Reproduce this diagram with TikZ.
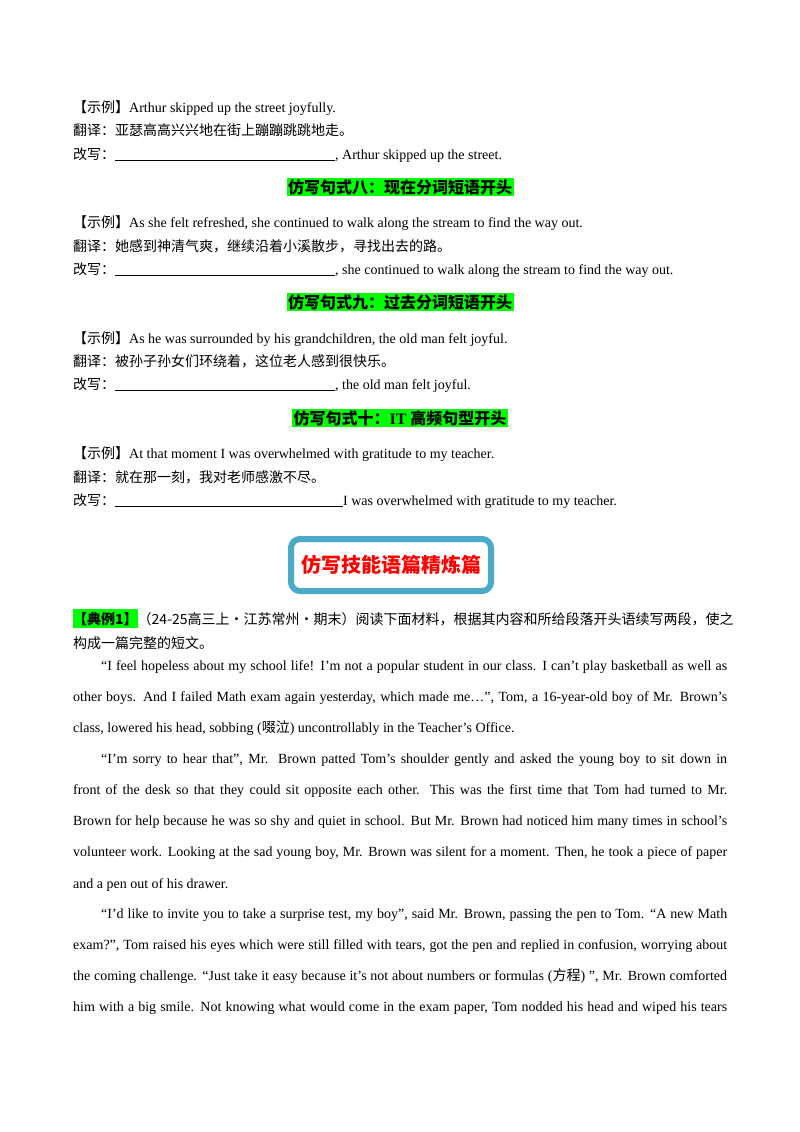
\documentclass[tikz,border=0pt]{standalone}
\usepackage{fontspec}
\setmainfont{Liberation Serif}
\newfontfamily\cjk{Noto Sans CJK SC}
\definecolor{hl}{RGB}{0,255,0}
\definecolor{boxc}{RGB}{75,170,200}
\newcommand{\C}[1]{{\cjk #1}}
\newcommand{\blank}[1]{\rule[-2pt]{#1pt}{0.6pt}}
\newcommand{\jl}[2]{\makebox[#1pt][s]{#2}}
\begin{document}
\begin{tikzpicture}[x=1pt,y=-1pt,
  t/.style={anchor=base west,inner sep=0pt,font=\fontsize{14}{16}\selectfont},
  hd/.style={anchor=center,inner sep=1.5pt,fill=hl,font=\fontsize{16}{18}\selectfont\cjk\bfseries}]
\useasboundingbox (0,0) rectangle (800,1132);
\fill[white] (0,0) rectangle (800,1132);
\node[t] (a1) at (73,112) {\C{【示例】}Arthur skipped up the street joyfully.};
\node[t] (a2) at (73,135) {\C{翻译：亚瑟高高兴兴地在街上蹦蹦跳跳地走。}};
\node[t] (a3) at (73,159) {\C{改写：}\blank{220}, Arthur skipped up the street.};
\node[hd] (h8) at (400,187) {仿写句式八：现在分词短语开头};
\node[t] (b1) at (73,227) {\C{【示例】}As she felt refreshed, she continued to walk along the stream to find the way out.};
\node[t] (b2) at (73,251) {\C{翻译：她感到神清气爽，继续沿着小溪散步，寻找出去的路。}};
\node[t] (b3) at (73,274) {\C{改写：}\blank{220}, she continued to walk along the stream to find the way out.};
\node[hd] (h9) at (400,302) {仿写句式九：过去分词短语开头};
\node[t] (c1) at (73,343) {\C{【示例】}As he was surrounded by his grandchildren, the old man felt joyful.};
\node[t] (c2) at (73,366) {\C{翻译：被孙子孙女们环绕着，这位老人感到很快乐。}};
\node[t] (c3) at (73,389) {\C{改写：}\blank{220}, the old man felt joyful.};
\node[hd] (h10) at (400,418) {仿写句式十：{\rmfamily\bfseries IT} 高频句型开头};
\node[t] (d1) at (73,458) {\C{【示例】}At that moment I was overwhelmed with gratitude to my teacher.};
\node[t] (d2) at (73,482) {\C{翻译：就在那一刻，我对老师感激不尽。}};
\node[t] (d3) at (73,505) {\C{改写：}\blank{228}I was overwhelmed with gratitude to my teacher.};
\node[draw=boxc,line width=6pt,rounded corners=9pt,minimum width=200pt,minimum height=52pt,fill=white,text=red,font=\fontsize{20}{22}\selectfont\cjk\bfseries] (box) at (391,565) {仿写技能语篇精炼篇};
\node[t] (e1) at (73,624) {{\cjk\bfseries\colorbox{hl}{\hspace{-3pt}【典例1】\hspace{-3pt}}}\C{（24-25高三上·江苏常州·期末）阅读下面材料，根据其内容和所给段落开头语续写两段，使之}};
\node[t] (e2) at (73,648) {\C{构成一篇完整的短文。}};
\node[t] (p1) at (101,670) {\jl{626}{“I feel hopeless about my school life! I’m not a popular student in our class. I can’t play basketball as well as}};
\node[t] (p2) at (73,701) {\jl{654}{other boys. And I failed Math exam again yesterday, which made me…”, Tom, a 16-year-old boy of Mr. Brown’s}};
\node[t] (p3) at (73,732) {class, lowered his head, sobbing (\C{啜泣}) uncontrollably in the Teacher’s Office.};
\node[t] (p4) at (101,763) {\jl{626}{“I’m sorry to hear that”, Mr. Brown patted Tom’s shoulder gently and asked the young boy to sit down in}};
\node[t] (p5) at (73,794) {\jl{654}{front of the desk so that they could sit opposite each other. This was the first time that Tom had turned to Mr.}};
\node[t] (p6) at (73,825) {\jl{654}{Brown for help because he was so shy and quiet in school. But Mr. Brown had noticed him many times in school’s}};
\node[t] (p7) at (73,856) {\jl{654}{volunteer work. Looking at the sad young boy, Mr. Brown was silent for a moment. Then, he took a piece of paper}};
\node[t] (p8) at (73,888) {and a pen out of his drawer.};
\node[t] (p9) at (101,918) {\jl{626}{“I’d like to invite you to take a surprise test, my boy”, said Mr. Brown, passing the pen to Tom. “A new Math}};
\node[t] (p10) at (73,949) {\jl{654}{exam?”, Tom raised his eyes which were still filled with tears, got the pen and replied in confusion, worrying about}};
\node[t] (p11) at (73,980) {\jl{654}{the coming challenge. “Just take it easy because it’s not about numbers or formulas (\C{方程}) ”, Mr. Brown comforted}};
\node[t] (p12) at (73,1011) {\jl{654}{him with a big smile. Not knowing what would come in the exam paper, Tom nodded his head and wiped his tears}};
\end{tikzpicture}
\end{document}
